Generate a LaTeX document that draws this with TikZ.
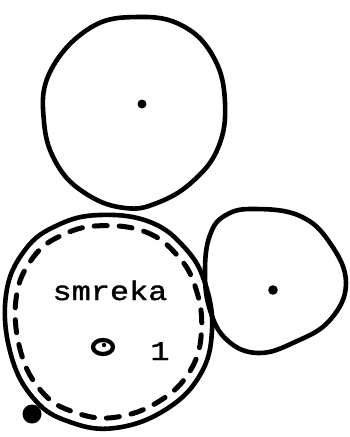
\documentclass[tikz,border=0pt]{standalone}
\usepackage{fontspec}
\newfontfamily\typewriter[FakeStretch=1.18, FakeBold=1.4]{Liberation Mono}

\tikzset{
    trunk/.style={line width=4.6pt, line join=round},
    crown/.style={line width=5pt, line cap=round, dash pattern=on 13pt off 12pt},
    pith/.style={fill=black},
    typed/.style={font=\typewriter\fontsize{27}{30}\selectfont, inner sep=0pt}
}

\begin{document}
\begin{tikzpicture}[x=1pt, y=-1pt]
        \useasboundingbox (0,0) rectangle (349,437);

        % gornje stablo
        \draw[trunk] plot[smooth cycle, tension=0.7] coordinates {
            (138,17) (183,26) (214,58) (225,103) (218,148) (192,182)
            (157,203) (125,208) (88,195) (58,166) (44,122) (50,72) (90,28)};
        \fill[pith] (142,104) circle (4.5);

        % desno stablo
        \draw[trunk] plot[smooth cycle, tension=0.7] coordinates {
            (255,209) (300,216) (330,243) (346,283) (330,320) (295,342)
            (258,353) (227,340) (210,310) (205,272) (210,235) (226,215)};
        \fill[pith] (273,290) circle (4.8);

        % smreka 1 (dvostruki obris)
        \def\smrekapath{plot[smooth cycle, tension=0.7] coordinates {
            (100,215) (150,222) (185,248) (205,283) (212,330) (200,375)
            (165,410) (115,428) (70,422) (35,400) (11,355) (6,295)
            (25,250) (58,225)}}
        \draw[trunk] \smrekapath;
        \draw[crown, scale around={0.9:(108,322)}] \smrekapath;

        \node[typed, anchor=base] (smreka) at (110,300) {smreka};
        \node[typed, anchor=base] (broj) at (160,360) {1};

        % srce stabla
        \draw[line width=4.2pt] (103,347) ellipse (10 and 7);
        \fill[pith] (104,345) circle (2.2);

        % oznaka
        \fill[pith] (32,414) circle (9.5);
\end{tikzpicture}
\end{document}
